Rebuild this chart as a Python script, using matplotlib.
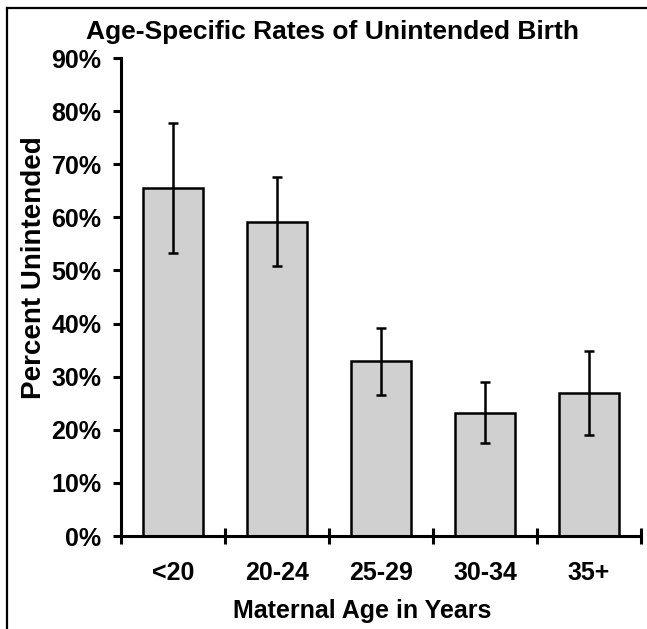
# Age-specific rates of unintended birth, bar chart with error bars
import matplotlib
matplotlib.use('Agg')
import matplotlib.pyplot as plt
from matplotlib.lines import Line2D
import numpy as np

# data
age_groups = ['<20', '20-24', '25-29', '30-34', '35+']
pct_unintended = [65.5, 59.2, 32.9, 23.2, 27.0]
ci_upper = [77.8, 67.6, 39.2, 29.0, 34.8]
ci_lower = [53.3, 50.8, 26.5, 17.5, 19.0]
y_ticks = [0, 10, 20, 30, 40, 50, 60, 70, 80, 90]

W, H = 647, 629
plt.rcParams['font.family'] = ['Liberation Sans', 'DejaVu Sans']
plt.rcParams['font.weight'] = 'bold'

fig = plt.figure(figsize=(W / 100, H / 100), dpi=100)
ax = fig.add_axes([121 / W, 1 - 536 / H, (641 - 121) / W, (536 - 58) / H])

x = np.arange(len(age_groups))
vals = np.array(pct_unintended)
yerr = [vals - np.array(ci_lower), np.array(ci_upper) - vals]
ax.bar(x, vals, width=0.57, color='#d0d0d0', edgecolor='black', linewidth=1.8, zorder=2)
ax.errorbar(x, vals, yerr=yerr, fmt='none', ecolor='black', elinewidth=1.8,
            capsize=3.5, capthick=1.8, zorder=3)

ax.set_xlim(-0.5, len(age_groups) - 0.5)
ax.set_ylim(0, 90)

for side in ['top', 'right']:
    ax.spines[side].set_visible(False)
for side in ['left', 'bottom']:
    ax.spines[side].set_linewidth(2.2)

ax.set_yticks(y_ticks)
ax.set_yticklabels([f'{t}%' for t in y_ticks], fontsize=18, fontweight='bold')
ax.tick_params(axis='y', length=6, width=2.2, direction='out', pad=8)

# labels at category centres, tick marks on category boundaries
ax.set_xticks(x)
ax.set_xticklabels(age_groups, fontsize=18, fontweight='bold')
ax.tick_params(axis='x', which='major', length=0, pad=18)
ax.set_xticks(np.arange(-0.5, len(age_groups)), minor=True)
ax.tick_params(axis='x', which='minor', length=12, width=2.2, direction='inout')

fig.text(332 / W, 1 - 32 / H, 'Age-Specific Rates of Unintended Birth',
         ha='center', va='center', fontsize=19, fontweight='bold')
fig.text(362 / W, 1 - 611 / H, 'Maternal Age in Years',
         ha='center', va='center', fontsize=18, fontweight='bold')
fig.text(34 / W, 1 - 268 / H, 'Percent Unintended', rotation=90,
         ha='center', va='center', fontsize=20, fontweight='bold')

# frame lines along the top and left edge
fig.add_artist(Line2D([7 / W, 7 / W], [1 - 8 / H, 0], color='black', linewidth=1.6,
                      transform=fig.transFigure))
fig.add_artist(Line2D([7 / W, 1.01], [1 - 8 / H, 1 - 8 / H], color='black', linewidth=1.6,
                      transform=fig.transFigure))

fig.savefig('out.png', dpi=100)
